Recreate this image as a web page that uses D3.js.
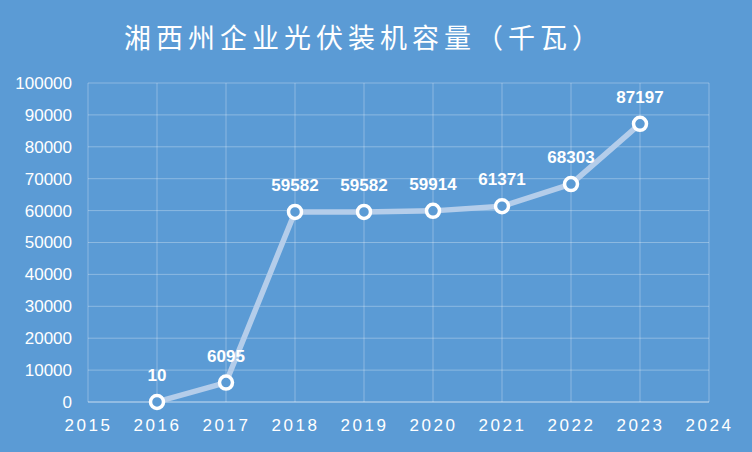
<!DOCTYPE html>
<html><head><meta charset="utf-8">
<script src="https://cdn.jsdelivr.net/npm/d3@7"></script>
<style>body{margin:0;background:#5b9bd5;}svg{display:block;}</style>
</head><body><svg id="c" width="752" height="452"></svg>
<script>
const years = [2016, 2017, 2018, 2019, 2020, 2021, 2022, 2023];
const capacity = [10, 6095, 59582, 59582, 59914, 61371, 68303, 87197];
const xTicks = [2015, 2016, 2017, 2018, 2019, 2020, 2021, 2022, 2023, 2024];
const yTicks = [0, 10000, 20000, 30000, 40000, 50000, 60000, 70000, 80000, 90000, 100000];
const title = "湘西州企业光伏装机容量（千瓦）";

const svg = d3.select("#c");
const W = 752, H = 452;
const m = {left: 88, right: 43, top: 83, bottom: 50};
svg.append("rect").attr("width", W).attr("height", H).attr("fill", "#5b9bd5");

const x = d3.scaleLinear().domain([2015, 2024]).range([m.left, W - m.right]);
const y = d3.scaleLinear().domain([0, 100000]).range([H - m.bottom, m.top]);

// grid
const g = svg.append("g");
g.selectAll(".hg").data(yTicks).join("line")
  .attr("x1", x(2015)).attr("x2", x(2024))
  .attr("y1", d => y(d)).attr("y2", d => y(d))
  .attr("stroke", "#ffffff").attr("stroke-opacity", d => d === 0 ? 0.45 : 0.3).attr("stroke-width", d => d === 0 ? 1.5 : 1);
g.selectAll(".vg").data(xTicks).join("line")
  .attr("x1", d => x(d)).attr("x2", d => x(d))
  .attr("y1", y(100000)).attr("y2", y(0))
  .attr("stroke", "#ffffff").attr("stroke-opacity", 0.3);

// axes labels
const yAxis = d3.axisLeft(y).tickValues(yTicks).tickSize(0).tickPadding(16).tickFormat(d3.format("d"));
const ya = svg.append("g").attr("transform", `translate(${m.left},0)`).call(yAxis);
ya.select(".domain").remove();
ya.selectAll("text").attr("fill", "#ffffff").style("font-family", "'Liberation Sans', Arial, sans-serif").style("font-size", "17px");

const xAxis = d3.axisBottom(x).tickValues(xTicks).tickSize(0).tickPadding(17).tickFormat(d3.format("d"));
const xa = svg.append("g").attr("transform", `translate(0,${y(0)})`).call(xAxis);
xa.select(".domain").remove();
xa.selectAll("text").attr("fill", "#ffffff").style("font-family", "'Liberation Sans', Arial, sans-serif").style("font-size", "17px").style("letter-spacing", "2.5px");

// line
const data = years.map((yr, i) => ({yr, v: capacity[i]}));
svg.append("path").datum(data)
  .attr("d", d3.line().x(d => x(d.yr)).y(d => y(d.v)))
  .attr("fill", "none").attr("stroke", "#b4cdea").attr("stroke-width", 5.5).attr("stroke-linejoin", "round");

svg.selectAll(".pt").data(data).join("circle")
  .attr("cx", d => x(d.yr)).attr("cy", d => y(d.v)).attr("r", 6.5)
  .attr("fill", "#5b9bd5").attr("stroke", "#ffffff").attr("stroke-width", 3.5);

svg.selectAll(".lbl").data(data).join("text")
  .attr("x", d => x(d.yr)).attr("y", d => y(d.v) - 21)
  .attr("text-anchor", "middle").attr("fill", "#ffffff")
  .style("font-family", "'Liberation Sans', Arial, sans-serif").style("font-weight", "bold").style("font-size", "17px")
  .text(d => d.v);

svg.append("text").attr("x", 124).attr("y", 48)
  .attr("fill", "#ffffff")
  .style("font-family", "'Noto Sans CJK SC', sans-serif").style("font-size", "27px").style("font-weight", "400").style("letter-spacing", "5px")
  .text(title);
</script></body></html>
